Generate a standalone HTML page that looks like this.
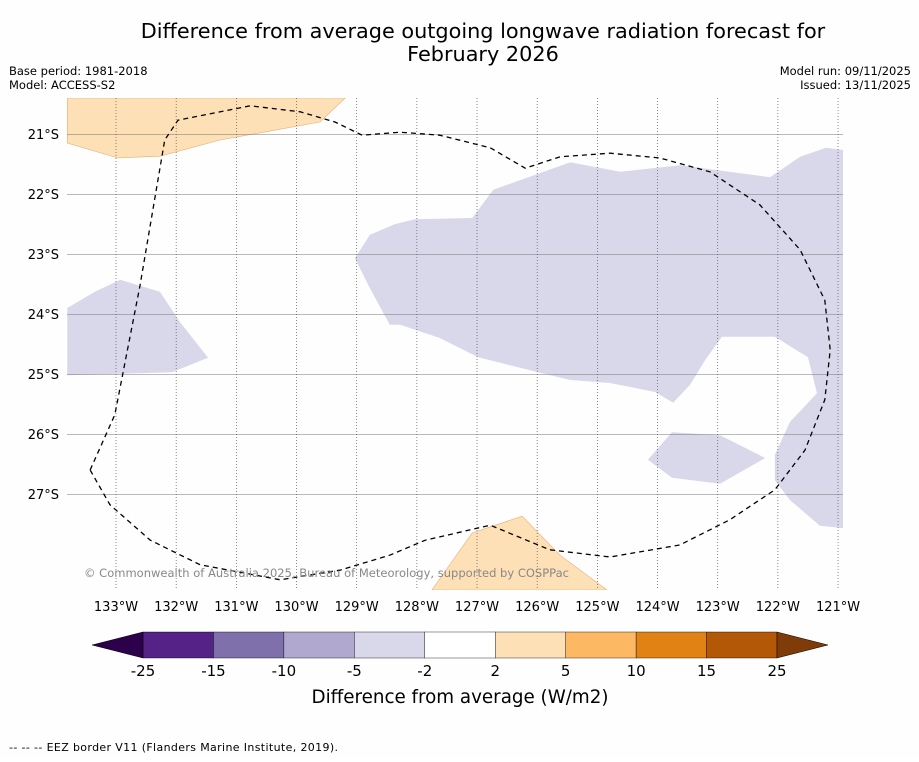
<!DOCTYPE html>
<html><head><meta charset="utf-8"><style>
body{margin:0;background:#fff;width:919px;height:758px;overflow:hidden;font-family:"DejaVu Sans","Liberation Sans",sans-serif;}
svg text{font-family:"DejaVu Sans","Liberation Sans",sans-serif;}
</style></head><body>
<svg id="c" width="919" height="758" xmlns="http://www.w3.org/2000/svg">
<rect width="919" height="758" fill="#fefefe"/>
<text x="483" y="38" font-size="20.8" text-anchor="middle">Difference from average outgoing longwave radiation forecast for</text>
<text x="483" y="61" font-size="20.8" text-anchor="middle">February 2026</text>
<text x="9" y="75" font-size="11.5">Base period: 1981-2018</text>
<text x="9" y="89" font-size="11.5">Model: ACCESS-S2</text>
<text x="911" y="75" font-size="11.5" text-anchor="end">Model run: 09/11/2025</text>
<text x="911" y="89" font-size="11.5" text-anchor="end">Issued: 13/11/2025</text>
<defs><clipPath id="mapclip"><rect x="67" y="98" width="776" height="492"/></clipPath></defs>
<g id="map" clip-path="url(#mapclip)"></g>
<g id="axes"></g>
<text x="84" y="577" font-size="11.5" fill="#888" textLength="485">© Commonwealth of Australia 2025, Bureau of Meteorology, supported by COSPPac</text>
<g id="cbar"></g>
<text x="460" y="703" font-size="18.3" text-anchor="middle">Difference from average (W/m2)</text>
<text x="9" y="751" font-size="11" textLength="329">--  --  -- EEZ border V11 (Flanders Marine Institute, 2019).</text>
</svg>
<script>
const lonTicks=[133,132,131,130,129,128,127,126,125,124,123,122,121];
const latTicks=[21,22,23,24,25,26,27];
const cbLevels=[-25,-15,-10,-5,-2,2,5,10,15,25];
const cbColors=["#552288","#7f6fab","#b1a8d0","#d8d8ea","#ffffff","#fee0b6","#fdb863","#e08214","#b35806"];
const orangeTop=[[133.81,20.4],[133.81,21.15],[132.97,21.4],[132.27,21.37],[131.27,21.1],[129.61,20.8],[129.19,20.4]];
const orangeBottom=[[127.75,28.6],[127.08,27.65],[126.25,27.37],[125.62,28.02],[124.84,28.6]];
const purpleLeft=[[133.81,23.9],[133.35,23.63],[132.93,23.43],[132.27,23.63],[131.94,24.13],[131.47,24.73],[132.07,24.97],[133.81,25.02]];
const purpleMain=[[129.03,23.07],[128.78,22.68],[128.36,22.5],[128.03,22.42],[127.08,22.4],[126.73,21.93],[125.45,21.47],[124.62,21.63],[123.62,21.52],[122.13,21.72],[121.63,21.38],[121.2,21.23],[120.9,21.27],[120.9,27.57],[121.3,27.53],[121.8,27.1],[122.05,26.77],[122.05,26.35],[121.8,25.8],[121.35,25.32],[121.5,24.72],[122.05,24.38],[122.93,24.38],[123.21,24.77],[123.46,25.18],[123.74,25.48],[124.04,25.3],[124.79,25.15],[125.45,25.1],[125.95,24.98],[126.98,24.72],[127.62,24.4],[128.28,24.18],[128.45,24.18],[128.78,23.57]];
const purpleSmall=[[124.16,26.43],[123.76,25.97],[122.96,26.02],[122.21,26.4],[122.96,26.83],[123.76,26.73]];
const eez=[[133.43,26.6],[133.02,25.68],[132.6,23.52],[132.19,21.1],[131.97,20.77],[130.77,20.53],[129.94,20.63],[129.36,20.8],[128.91,21.02],[128.28,20.97],[127.62,21.02],[126.78,21.23],[126.2,21.57],[125.62,21.38],[124.79,21.32],[123.96,21.4],[123.13,21.63],[122.3,22.18],[121.63,22.93],[121.22,23.77],[121.13,24.6],[121.22,25.43],[121.55,26.27],[122.05,26.93],[122.8,27.43],[123.63,27.85],[124.79,28.05],[125.79,27.93],[126.78,27.52],[127.86,27.77],[128.45,28.02],[129.28,28.27],[130.27,28.43],[131.6,28.18],[132.43,27.77],[133.1,27.18],[133.43,26.6]];
const NS="http://www.w3.org/2000/svg";
const X=lw=>116+(133-lw)*60.17;
const Y=ls=>134+(ls-21)*60;
const CB=v=>143+(cbLevels.indexOf(v))*(634/9);
function mk(tag,attrs,parent){const e=document.createElementNS(NS,tag);for(const k in attrs)e.setAttribute(k,attrs[k]);parent.appendChild(e);return e;}
const map=document.getElementById('map'),axes=document.getElementById('axes'),cbar=document.getElementById('cbar');
function poly(pts,fill,stroke,name){const p=mk('polygon',{points:pts.map(q=>X(q[0])+','+Y(q[1])).join(' '),fill:fill,stroke:stroke,'stroke-width':0.6},map);

}
poly(orangeTop,"#fee0b6","#e0b070","orange-region-north");
poly(orangeBottom,"#fee0b6","#e0b070","orange-region-south");
poly(purpleLeft,"#d8d8ea","none","purple-region-west");
poly(purpleMain,"#d8d8ea","none","purple-region-main");
poly(purpleSmall,"#d8d8ea","none","purple-region-small");
latTicks.forEach(l=>{const y=Y(l);const g=mk('line',{x1:67,x2:843,y1:y+0.5,y2:y+0.5,stroke:'#777','stroke-width':0.5},map);


const t=mk('text',{x:59,y:y+5,'font-size':13,'text-anchor':'end'},axes);t.textContent=l+'°S';

});
lonTicks.forEach(l=>{const x=X(l);const g=mk('line',{x1:x,x2:x,y1:98,y2:590,stroke:'#555','stroke-width':0.7,'stroke-dasharray':'1,2'},map);


const t=mk('text',{x:x,y:611,'font-size':13,'text-anchor':'middle'},axes);t.textContent=l+'°W';

});
const e=mk('polyline',{points:eez.map(q=>X(q[0])+','+Y(q[1])).join(' '),fill:'none',stroke:'#000','stroke-width':1.3,'stroke-dasharray':'5,4'},map);


for(let i=0;i<cbColors.length;i++){const x1=CB(cbLevels[i]),x2=CB(cbLevels[i+1]);
const r=mk('rect',{x:x1,y:632,width:x2-x1,height:26,fill:cbColors[i],stroke:'#000','stroke-width':0.4},cbar);

}
const tl=mk('polygon',{points:`143,632 92,645 143,658`,fill:'#2d004b',stroke:'#000','stroke-width':0.5},cbar);


const tr=mk('polygon',{points:`777,632 828,645 777,658`,fill:'#7f3b08',stroke:'#000','stroke-width':0.5},cbar);


cbLevels.forEach(v=>{const x=CB(v);const t=mk('text',{x:x,y:676,'font-size':15,'text-anchor':'middle'},cbar);t.textContent=v;

});
</script>
</body></html>
